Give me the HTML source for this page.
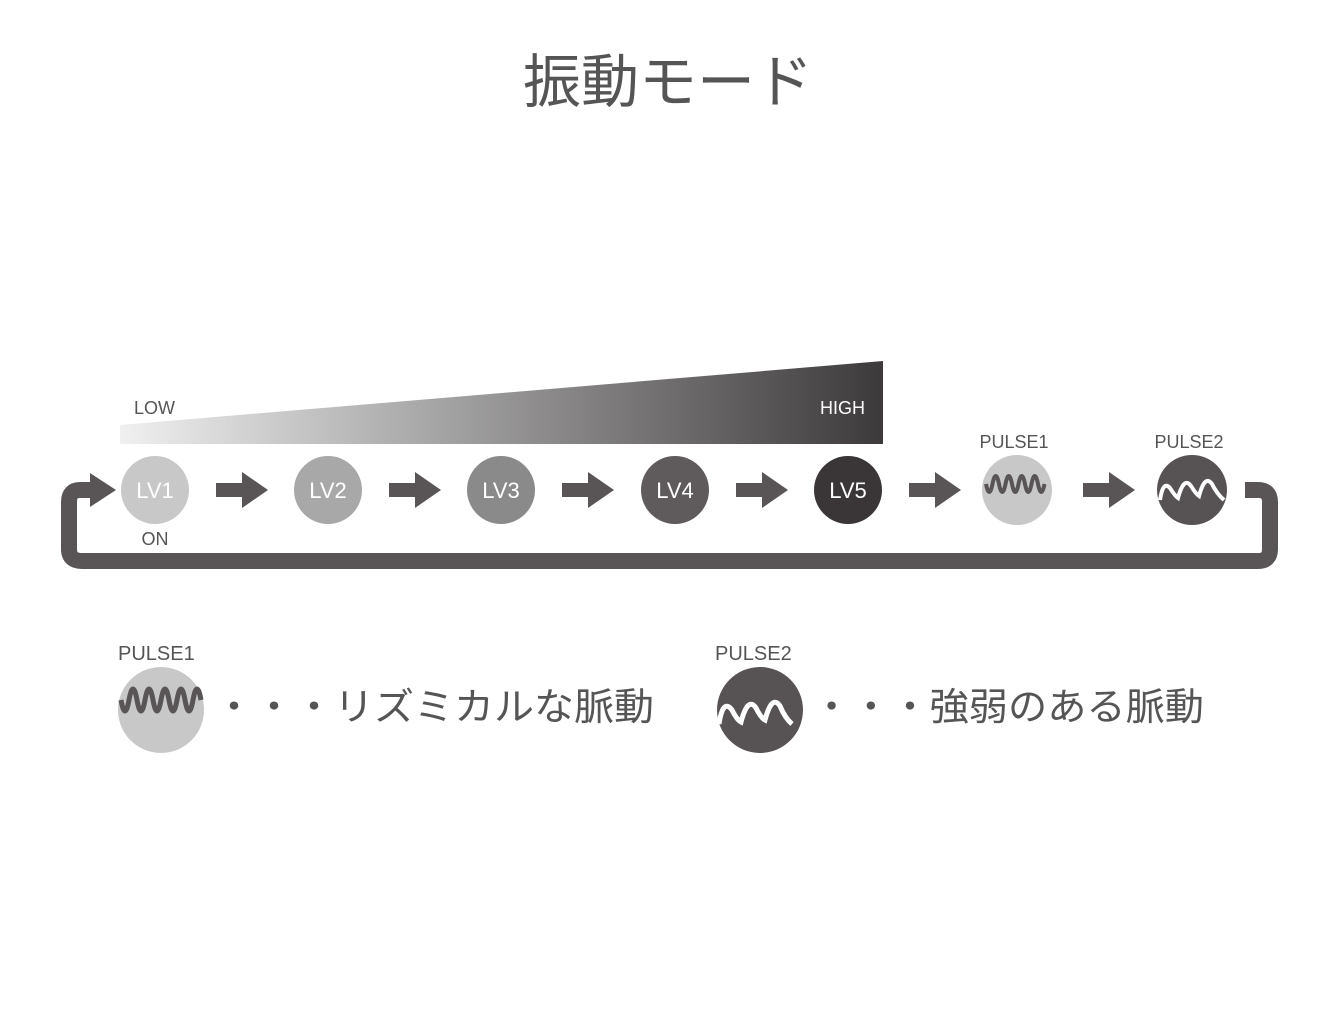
<!DOCTYPE html>
<html><head><meta charset="utf-8"><style>
body{margin:0;background:#fff;}
svg text{font-family:"Liberation Sans","Noto Sans CJK JP",sans-serif;}
</style></head><body>
<svg width="1340" height="1020" viewBox="0 0 1340 1020" xmlns="http://www.w3.org/2000/svg">
<defs>
<linearGradient id="g" x1="0" x2="1" y1="0" y2="0">
<stop offset="0" stop-color="#f0f0f0"/><stop offset="1" stop-color="#3d3a3b"/>
</linearGradient>
<g id="arr"><rect x="0" y="-7" width="28" height="14" fill="#595556"/><polygon points="26,-18 52,0 26,18" fill="#595556"/></g>
</defs>
<text x="668" y="102" font-size="58" fill="#555" text-anchor="middle">振動モード</text>
<polygon points="120,425 883,361 883,444 120,444" fill="url(#g)"/>
<text x="134" y="414" font-size="18" fill="#555">LOW</text>
<text x="820" y="414" font-size="18" fill="#fff">HIGH</text>
<path d="M95,490 H80 Q69,490 69,502 V549 Q69,561 82,561 H1258 Q1270,561 1270,549 V502 Q1270,490 1258,490 H1245" fill="none" stroke="#595556" stroke-width="16"/>
<polygon points="90,473 116,490 90,507" fill="#595556"/>
<g font-size="22" fill="#fff" text-anchor="middle">
<circle cx="155" cy="490" r="34" fill="#c8c8c8"/><text x="155" y="498">LV1</text>
<circle cx="328" cy="490" r="34" fill="#a8a8a8"/><text x="328" y="498">LV2</text>
<circle cx="501" cy="490" r="34" fill="#8a8a8a"/><text x="501" y="498">LV3</text>
<circle cx="675" cy="490" r="34" fill="#5f5b5c"/><text x="675" y="498">LV4</text>
<circle cx="848" cy="490" r="34" fill="#3a3536"/><text x="848" y="498">LV5</text>
</g>
<text x="155" y="545" font-size="18" fill="#555" text-anchor="middle">ON</text>
<use href="#arr" x="216" y="490"/><use href="#arr" x="389" y="490"/><use href="#arr" x="562" y="490"/><use href="#arr" x="736" y="490"/><use href="#arr" x="909" y="490"/><use href="#arr" x="1083" y="490"/>
<text x="1014" y="448" font-size="18" fill="#555" text-anchor="middle">PULSE1</text>
<text x="1189" y="448" font-size="18" fill="#555" text-anchor="middle">PULSE2</text>
<circle cx="1017" cy="490" r="35" fill="#c8c8c8"/>
<path d="M986,484 q3.25,16 6.5,0 q3.25,-16 6.5,0 q3.25,16 6.5,0 q3.25,-16 6.5,0 q3.25,16 6.5,0 q3.25,-16 6.5,0 q3.25,16 6.5,0 q3.25,-16 6.5,0 q3.25,16 6.5,0" fill="none" stroke="#595556" stroke-width="4"/>
<circle cx="1192" cy="490" r="35" fill="#575354"/>
<path d="M1160,500 q3,-20 10,-12 q5,8 8,10 q6,-22 13,-12 q5,8 8,10 q6,-22 13,-12 q5,10 12,16" fill="none" stroke="#fff" stroke-width="4"/>
<text x="118" y="660" font-size="20" fill="#555">PULSE1</text>
<circle cx="161" cy="710" r="43" fill="#c8c8c8"/>
<path d="M121,700 q4,22 8,0 q4,-22 8,0 q4,22 8,0 q4,-22 8,0 q4,22 8,0 q4,-22 8,0 q4,22 8,0 q4,-22 8,0 q4,22 8,0 q4,-22 8,0" fill="none" stroke="#595556" stroke-width="5"/>
<text x="214" y="720" font-size="38" fill="#555" textLength="440" lengthAdjust="spacingAndGlyphs">・・・リズミカルな脈動</text>
<text x="715" y="660" font-size="20" fill="#555">PULSE2</text>
<circle cx="760" cy="710" r="43" fill="#575354"/>
<path d="M719,724 q4,-26 13,-14 q5,10 9,12 q7,-26 15,-14 q5,10 9,12 q7,-26 15,-14 q5,12 12,18" fill="none" stroke="#fff" stroke-width="5"/>
<text x="812" y="720" font-size="38" fill="#555" textLength="392" lengthAdjust="spacingAndGlyphs">・・・強弱のある脈動</text>
</svg>
</body></html>
